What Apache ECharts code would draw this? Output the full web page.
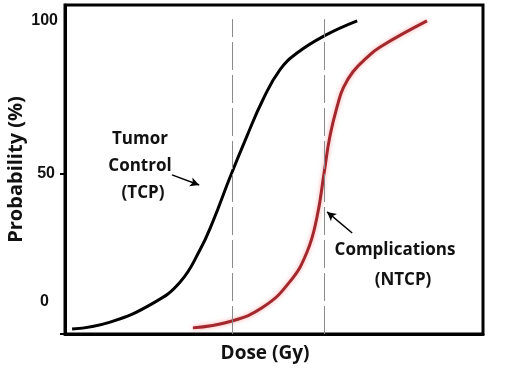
<!DOCTYPE html>
<html>
<head>
<meta charset="utf-8">
<script src="https://cdn.jsdelivr.net/npm/echarts@6/dist/echarts.min.js"></script>
<style>html,body{margin:0;padding:0;background:#fff}#c{width:513px;height:375px}</style>
</head>
<body>
<div id="c"></div>
<script>
// Dose axis (arbitrary units) and probabilities (%)
const tcpDose = [1.7, 10.8, 21.1, 27.5, 32.3, 35.4, 39.5, 43.5, 47.4, 51.4, 55.5, 62.0, 69.9];
const tcpProb = [-0.7, 1.6, 7.8, 14.6, 25.2, 34.5, 49.0, 62.3, 74.4, 84.0, 89.5, 95.1, 100.0];
const ntcpDose = [30.6, 39.5, 47.4, 53.8, 57.9, 60.3, 62.0, 63.4, 65.3, 66.6, 68.9, 72.2, 75.4, 86.6];
const ntcpProb = [-0.3, 1.8, 6.5, 14.8, 24.5, 36.0, 50.5, 62.5, 73.0, 78.2, 83.4, 88.0, 91.5, 100.0];
const guideDoses = [40, 62];
const guideTop = 100.6;
const yTickLabels = ['0', '50', '100'];
const yLabelValues = [8.2, 50, 100];
const yTickValues = [-2.3, 50];
const tcpArrow = [[25.6, 49.7], [32.1, 46.4]];
const ntcpArrow = [[68.7, 30.7], [62.7, 37.6]];

const yMin = -2.3, yMax = 105.2;
const chart = echarts.init(document.getElementById('c'), null, {renderer: 'canvas'});
const pair = (xs, ys) => xs.map((x, i) => [x, ys[i]]);
const labelStyles = ['c', 'b', 'a'];

chart.setOption({
  animation: false,
  backgroundColor: '#fff',
  grid: {left: 65, right: 30, top: 5, bottom: 41, show: true, borderColor: '#000', borderWidth: 3,
         containLabel: false, outerBoundsMode: 'none'},
  xAxis: {
    type: 'value', min: 0, max: 100,
    name: 'Dose (Gy)', nameLocation: 'middle', nameGap: 10, nameMoveOverlap: false,
    nameTextStyle: {fontFamily: 'Open Sans', fontWeight: 'bold', fontSize: 19, color: '#111', padding: [0, 18, 0, 0]},
    axisLine: {show: true, onZero: false, lineStyle: {color: '#000', width: 3}},
    axisTick: {show: false}, axisLabel: {show: false}, splitLine: {show: false}
  },
  yAxis: {
    type: 'value', min: yMin, max: yMax,
    name: 'Probability (%)', nameLocation: 'middle', nameGap: 39, nameRotate: 90, nameMoveOverlap: false,
    nameTextStyle: {fontFamily: 'Open Sans', fontWeight: 'bold', fontSize: 20, color: '#111'},
    axisLine: {show: true, onZero: false, lineStyle: {color: '#000', width: 3}},
    axisTick: {show: true, customValues: yTickValues, length: 5, lineStyle: {color: '#000', width: 2}},
    axisLabel: {
      show: true, customValues: yLabelValues, margin: 6,
      formatter: function (v) {
        const i = yLabelValues.indexOf(v);
        return i < 0 ? '' : '{' + labelStyles[i] + '|' + yTickLabels[i] + '}';
      },
      rich: {
        a: {fontFamily: 'Liberation Sans', fontWeight: 'bold', fontSize: 16, color: '#111', padding: [0, 1, 0, 0]},
        b: {fontFamily: 'Liberation Sans', fontWeight: 'bold', fontSize: 16, color: '#111', padding: [0, 4, 0, 0]},
        c: {fontFamily: 'Liberation Sans', fontWeight: 'bold', fontSize: 16, color: '#111', padding: [0, 10, 0, 0]}
      }
    },
    splitLine: {show: false}
  },
  series: [
    {
      name: 'TCP', type: 'line', data: pair(tcpDose, tcpProb), smooth: 0.45,
      showSymbol: false, lineStyle: {color: '#000', width: 3}, z: 3,
      markLine: {
        silent: true, symbol: ['none', 'none'], label: {show: false},
        lineStyle: {color: '#8a8a8a', width: 1, type: [28, 5]},
        data: guideDoses.map(d => [{coord: [d, yMin]}, {coord: [d, guideTop]}])
      }
    },
    {
      name: 'NTCP', type: 'line', data: pair(ntcpDose, ntcpProb), smooth: 0.45,
      showSymbol: false, z: 3,
      lineStyle: {color: '#a2282d', width: 3, shadowBlur: 4, shadowColor: 'rgba(255,90,90,0.55)'},
      markLine: {
        silent: true, label: {show: false}, symbolSize: [7, 9],
        lineStyle: {color: '#000', width: 1.5, type: 'solid'},
        data: [
          [{coord: tcpArrow[0], symbol: 'none'}, {coord: tcpArrow[1], symbol: 'arrow'}],
          [{coord: ntcpArrow[0], symbol: 'none'}, {coord: ntcpArrow[1], symbol: 'arrow'}]
        ]
      }
    }
  ],
  graphic: [
    {type: 'text', x: 140, y: 139, style: {text: 'Tumor', fontFamily: 'Open Sans', fontWeight: 'bold', fontSize: 17, fill: '#111', align: 'center', verticalAlign: 'middle'}},
    {type: 'text', x: 140, y: 166, style: {text: 'Control', fontFamily: 'Open Sans', fontWeight: 'bold', fontSize: 17, fill: '#111', align: 'center', verticalAlign: 'middle'}},
    {type: 'text', x: 143, y: 193, style: {text: '(TCP)', fontFamily: 'Open Sans', fontWeight: 'bold', fontSize: 17, fill: '#111', align: 'center', verticalAlign: 'middle'}},
    {type: 'text', x: 395, y: 250, style: {text: 'Complications', fontFamily: 'Open Sans', fontWeight: 'bold', fontSize: 17, fill: '#111', align: 'center', verticalAlign: 'middle'}},
    {type: 'text', x: 403, y: 280, style: {text: '(NTCP)', fontFamily: 'Open Sans', fontWeight: 'bold', fontSize: 17, fill: '#111', align: 'center', verticalAlign: 'middle'}}
  ]
});
</script>
</body>
</html>
